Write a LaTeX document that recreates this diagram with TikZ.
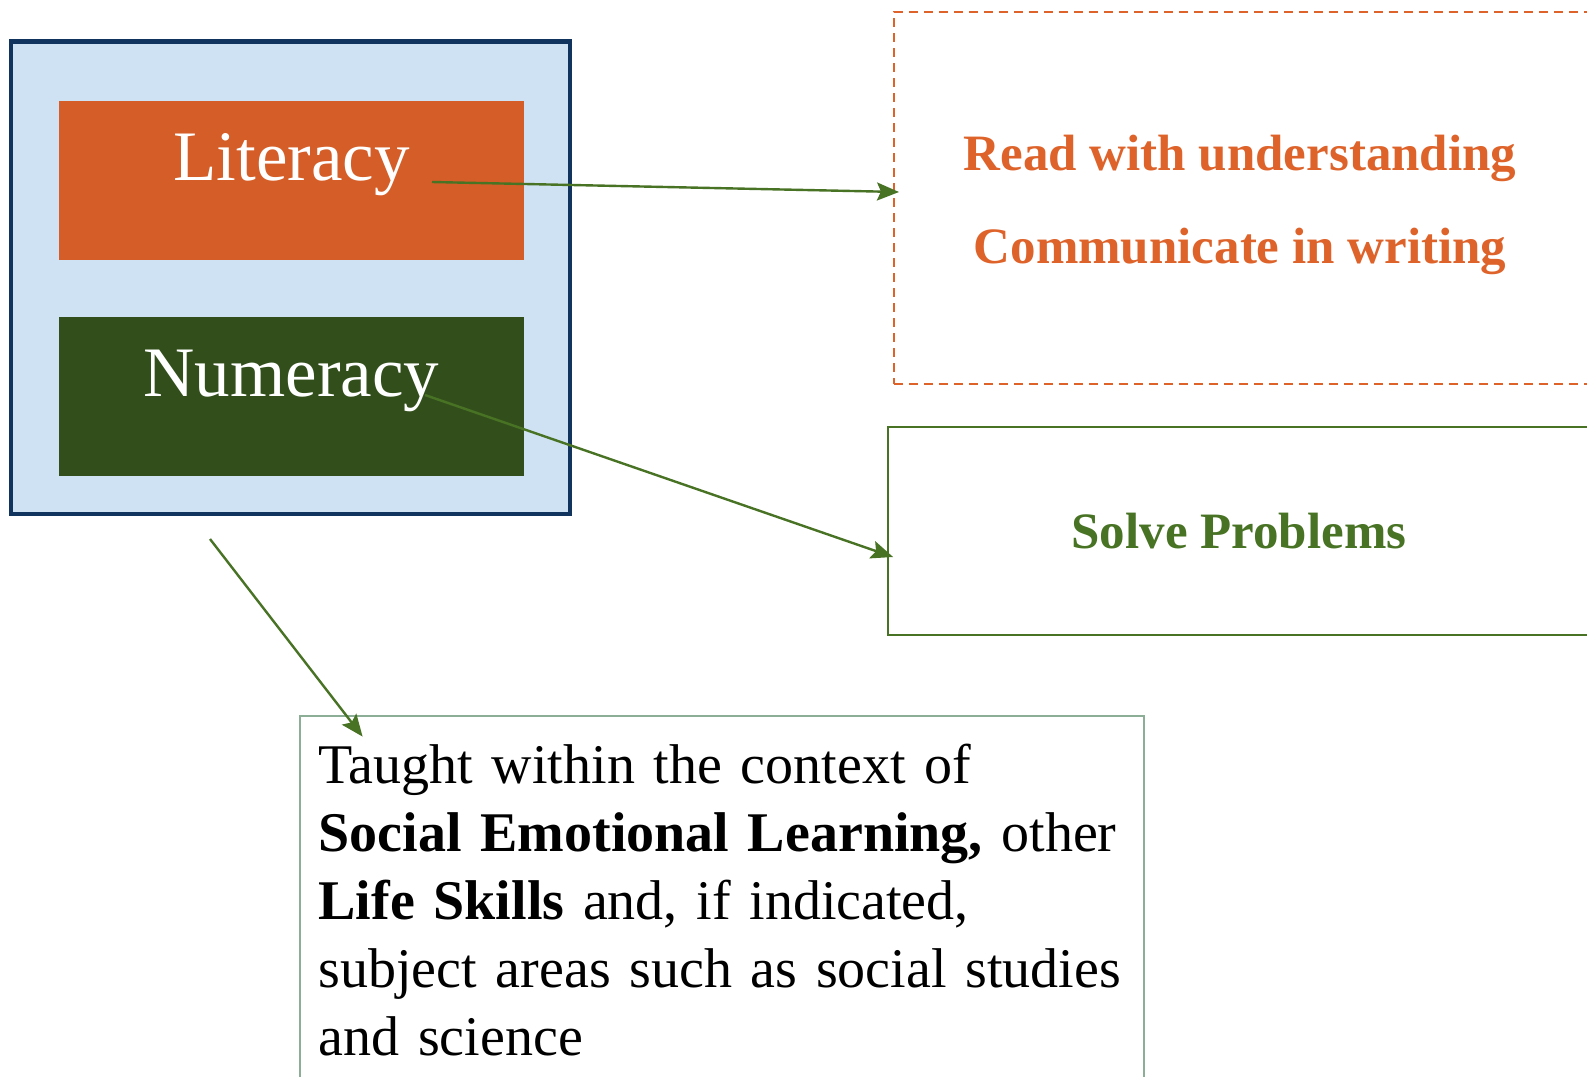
\documentclass[tikz,border=0pt]{standalone}
\usepackage{fontspec}
\setmainfont{Liberation Serif}
\usepackage{tikz}
\usetikzlibrary{arrows.meta}

\definecolor{frameblue}{RGB}{16,52,94}
\definecolor{paleblue}{RGB}{207,226,243}
\definecolor{litorange}{RGB}{213,93,39}
\definecolor{goalorange}{RGB}{222,99,42}
\definecolor{numgreen}{RGB}{50,79,27}
\definecolor{linkgreen}{RGB}{72,114,36}
\definecolor{sagegreen}{RGB}{140,174,150}

\begin{document}
\begin{tikzpicture}[x=0.5pt, y=-0.5pt,
    skill/.style={minimum width=232.7pt, minimum height=79.5pt, inner sep=0pt},
    skilltext/.style={text=white, font=\fontsize{35.5}{40}\selectfont, anchor=base},
    goaltext/.style={font=\fontsize{25.5}{30}\selectfont\bfseries},
    link/.style={linkgreen, line width=1.2pt, -{Stealth[length=11pt, width=9pt, inset=2pt]}}]
    \path[use as bounding box, clip] (0, 0) rectangle (1587, 1077);

    % The two skills inside the blue frame
    \node[draw=frameblue, line width=2.2pt, fill=paleblue, minimum width=279.5pt, minimum height=236.25pt] (frame) at (290.5, 277.75) {};
    \node[skill, fill=litorange] (lit) at (291.4, 180.5) {};
    \node[skill, fill=numgreen] (num) at (291.4, 396.5) {};
    \node[skilltext] (littext) at (lit.center) {Literacy};
    \node[skilltext] (numtext) at (num.center) {Numeracy};

    % What each skill leads to
    \node[draw=goalorange, line width=1pt, dash pattern=on 4.5pt off 3pt, minimum width=348pt, minimum height=186pt] (goals) at (1242, 198) {};
    \node[goaltext, text=goalorange, anchor=base] (read) at (1240, 170) {Read with understanding};
    \node[goaltext, text=goalorange, anchor=base] (write) at (1240, 263) {Communicate in writing};
    \node[goaltext, draw=linkgreen, line width=0.9pt, text=linkgreen, minimum width=351pt, minimum height=104pt] (solve) at (1239, 531) {Solve Problems};

    % Where it is taught
    \node[draw=sagegreen, line width=1pt, anchor=north west, text width=403pt, align=left, inner xsep=9.5pt, inner ysep=14pt,
          font=\fontsize{28}{34}\selectfont] (context) at (298.6, 714.6) {\mbox{Taught within the context of}\\
        \mbox{\textbf{Social Emotional Learning,} other}\\
        \mbox{\textbf{Life Skills} and, if indicated,}\\
        \mbox{subject areas such as social studies}\\
        \mbox{and science}};

    % Arrows
    \coordinate (litout) at (432, 182);
    \coordinate (numout) at (425, 395);
    \coordinate (ctxin) at (210, 539);
    \draw[link] (litout) -- ([xshift=3pt, yshift=3pt]goals.west);
    \draw[link] (numout) -- ([xshift=3pt, yshift=-13pt]solve.west);
    \draw[link] (ctxin) -- ([xshift=32pt, yshift=-11pt]context.north west);
\end{tikzpicture}
\end{document}
